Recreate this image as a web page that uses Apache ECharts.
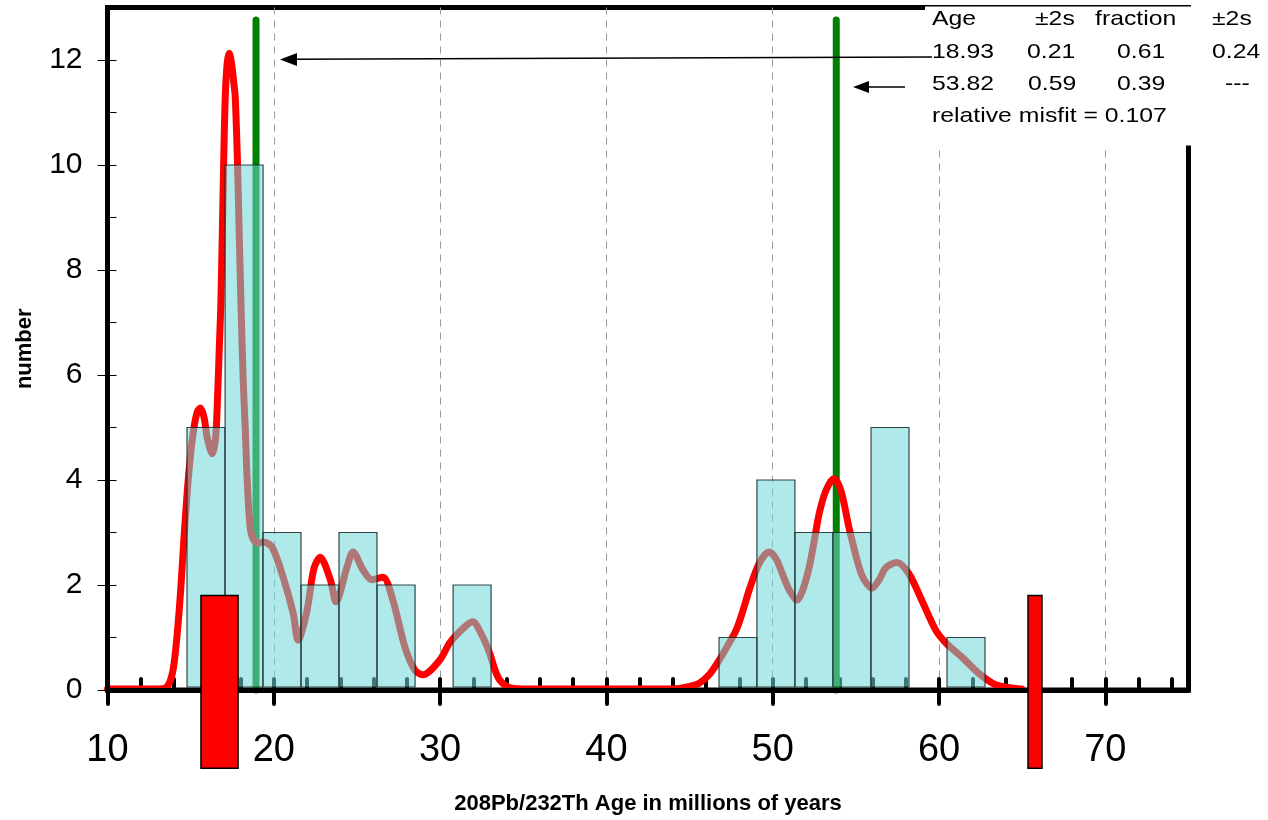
<!DOCTYPE html>
<html>
<head>
<meta charset="utf-8">
<script src="https://cdn.jsdelivr.net/npm/echarts@6/dist/echarts.min.js"></script>
<style>html,body{margin:0;padding:0;background:#fff}#c{width:1268px;height:820px}</style>
</head>
<body>
<div id="c"></div>
<script>
// ---- data ----
var xTicks = [10, 20, 30, 40, 50, 60, 70];
var yTicks = [0, 2, 4, 6, 8, 10, 12];
var binLeft = [14.78, 17.07, 19.35, 21.64, 23.92, 26.21, 30.78, 46.77, 49.05, 51.34, 53.62, 55.91, 60.48];
var binCount = [5, 10, 3, 2, 3, 2, 2, 1, 4, 3, 3, 5, 1];
var binWidth = 2.285;
var curveX = [10, 12, 13, 13.5, 13.8, 14.0, 14.2, 14.4, 14.6, 14.8, 15.0, 15.2, 15.4, 15.58, 15.8, 16.0, 16.3, 16.5, 16.62, 16.72, 16.82, 16.98, 17.08, 17.2, 17.32, 17.45, 17.58, 17.68, 17.82, 17.92, 18.03, 18.16, 18.28, 18.4, 18.58, 18.8, 19.1, 19.36, 19.9, 20.56, 21.16, 21.46, 22.0, 22.4, 22.78, 23.4, 23.74, 24.4, 24.76, 25.36, 25.9, 26.56, 27.16, 27.88, 28.48, 28.96, 29.98, 30.58, 31.4, 31.96, 32.5, 32.98, 33.3, 33.58, 34.0, 34.4, 35.0, 44.0, 44.4, 45.0, 45.58, 46.2, 46.78, 47.3, 47.8, 48.2, 48.58, 49.2, 49.78, 50.2, 50.56, 51.0, 51.46, 51.8, 52.2, 52.5, 52.8, 53.2, 53.68, 54.1, 54.58, 55.18, 55.5, 55.96, 56.4, 56.8, 57.46, 58.18, 58.96, 59.8, 60.4, 61.36, 62.38, 63.4, 64.36, 64.96];
var curveY = [0.02, 0.02, 0.02, 0.04, 0.2, 0.5, 1.1, 1.9, 2.9, 3.8, 4.5, 5.0, 5.3, 5.37, 5.2, 4.8, 4.5, 4.8, 5.6, 6.5, 7.4, 9.96, 11.3, 11.95, 12.13, 11.95, 11.6, 11.3, 10.0, 8.7, 7.3, 5.9, 5.0, 4.0, 3.1, 2.85, 2.8, 2.82, 2.72, 2.15, 1.47, 0.95, 1.52, 2.3, 2.53, 2.1, 1.68, 2.34, 2.63, 2.29, 2.1, 2.15, 1.71, 0.82, 0.38, 0.29, 0.57, 0.9, 1.18, 1.3, 1.05, 0.7, 0.38, 0.19, 0.07, 0.03, 0.02, 0.02, 0.03, 0.07, 0.13, 0.3, 0.57, 0.85, 1.14, 1.5, 1.9, 2.42, 2.63, 2.5, 2.23, 1.9, 1.71, 1.9, 2.35, 2.85, 3.37, 3.8, 4.03, 3.8, 3.1, 2.35, 2.1, 1.94, 2.1, 2.33, 2.43, 2.22, 1.71, 1.14, 0.9, 0.63, 0.32, 0.1, 0.04, 0.02];
var peakAges = [18.93, 53.82];
var peakLineTop = 12.76;
var rangeLeft = [15.62, 65.35];
var rangeRight = [17.85, 66.19];
var rangeTop = 1.8;
var rangeBottom = -1.49;
var tableRows = [
  ['Age', '\u00b12s', 'fraction', '\u00b12s'],
  ['18.93', '0.21', '0.61', '0.24'],
  ['53.82', '0.59', '0.39', '---'],
  ['relative misfit = 0.107']
];

// ---- build ----
var FONT = 'Arial, "Liberation Sans", sans-serif';
var curveData = curveX.map(function (x, i) { return [x, curveY[i]]; });
var binData = binLeft.map(function (l, i) { return [l, l + binWidth, binCount[i]]; });
var peakData = peakAges.map(function (a) { return [a, peakLineTop]; });
var rangeData = rangeLeft.map(function (l, i) { return [l, rangeRight[i], rangeTop, rangeBottom]; });

var chart = echarts.init(document.getElementById('c'), null, {renderer: 'canvas'});

var colX = [[932, 1035, 1095, 1212], [932, 1027, 1117, 1212], [932, 1028, 1117, 1225], [932]];
var rowY = [19.5, 52, 84.5, 116.5];
var tableEls = [{
  type: 'rect', z: 30,
  shape: {x: 925, y: 6.5, width: 343, height: 139},
  style: {fill: '#fff'}
}];
tableRows.forEach(function (row, r) {
  row.forEach(function (t, c) {
    tableEls.push({
      type: 'text', z: 31, x: colX[r][c], y: rowY[r], scaleX: 1.18,
      style: {text: t, font: '21px ' + FONT, fill: '#000', verticalAlign: 'middle', align: 'left'}
    });
  });
});
// arrows
tableEls.push({type: 'line', z: 32, shape: {x1: 932, y1: 57, x2: 292, y2: 59.3}, style: {stroke: '#000', lineWidth: 1.5}});
tableEls.push({type: 'polygon', z: 32, shape: {points: [[280, 59.5], [297, 53], [297, 66]]}, style: {fill: '#000'}});
tableEls.push({type: 'line', z: 32, shape: {x1: 905, y1: 87, x2: 864, y2: 87}, style: {stroke: '#000', lineWidth: 1.5}});
tableEls.push({type: 'polygon', z: 32, shape: {points: [[853, 87], [869, 81], [869, 93]]}, style: {fill: '#000'}});

var option = {
  animation: false,
  backgroundColor: '#fff',
  grid: {left: 107.5, right: 79.5, top: 7.5, bottom: 129.5, show: true, borderColor: '#000', borderWidth: 5, backgroundColor: 'transparent'},
  xAxis: [{
    type: 'value', min: 10, max: 75, position: 'bottom', z: 5,
    axisLine: {onZero: false, lineStyle: {color: '#000', width: 5}},
    axisTick: {show: true, inside: false, length: 14, customValues: xTicks, lineStyle: {color: '#000', width: 4, cap: 'round'}},
    axisLabel: {customValues: xTicks, fontSize: 38, fontFamily: FONT, color: '#000', margin: 42},
    splitLine: {show: false},
    name: '208Pb/232Th Age in millions of years', nameLocation: 'middle', nameGap: 103,
    nameTextStyle: {fontSize: 22, fontWeight: 'bold', fontFamily: FONT, color: '#000'}
  }, {
    type: 'value', min: 10, max: 75, interval: 2, position: 'bottom', z: 0,
    axisLine: {show: false, onZero: false},
    axisTick: {show: true, inside: true, length: 11, lineStyle: {color: '#000', width: 4, cap: 'round'}},
    axisLabel: {show: false}, splitLine: {show: false}
  }, {
    type: 'value', min: 10, max: 75, interval: 10, position: 'bottom', z: 0,
    axisLine: {show: false, onZero: false}, axisTick: {show: false}, axisLabel: {show: false},
    splitLine: {show: true, showMinLine: false, showMaxLine: false, lineStyle: {color: '#999', width: 1, type: [7, 6]}}
  }],
  yAxis: [{
    type: 'value', min: 0, max: 13, position: 'left', z: 5,
    axisLine: {onZero: false, lineStyle: {color: '#000', width: 5}},
    axisTick: {show: true, inside: false, length: 10, customValues: yTicks, lineStyle: {color: '#000', width: 1}},
    axisLabel: {customValues: yTicks, fontSize: 30, fontFamily: FONT, color: '#000', margin: 25},
    splitLine: {show: false},
    name: 'number', nameLocation: 'middle', nameGap: 72,
    nameTextStyle: {fontSize: 22, fontWeight: 'bold', fontFamily: FONT, color: '#000'}
  }, {
    type: 'value', min: 0, max: 13, interval: 1, position: 'left', offset: 0, z: 0,
    axisLine: {show: false, onZero: false},
    axisTick: {show: true, inside: true, length: 9, lineStyle: {color: '#000', width: 1}},
    axisLabel: {show: false}, splitLine: {show: false}
  }],
  series: [{
    type: 'custom', name: 'peaks', z: 2, clip: false,
    data: peakData,
    renderItem: function (params, api) {
      var top = api.coord([api.value(0), api.value(1)]);
      var bot = api.coord([api.value(0), 0]);
      return {type: 'line', shape: {x1: top[0], y1: top[1], x2: bot[0], y2: bot[1]},
        style: {stroke: '#008000', lineWidth: 7, lineCap: 'round'}};
    }
  }, {
    type: 'line', name: 'density', z: 3, data: curveData, showSymbol: false, smooth: 0.3,
    lineStyle: {color: '#ff0000', width: 7, cap: 'round', join: 'round'}
  }, {
    type: 'custom', name: 'histogram', z: 4,
    data: binData,
    renderItem: function (params, api) {
      var p0 = api.coord([api.value(0), api.value(2)]);
      var p1 = api.coord([api.value(1), 0]);
      return {type: 'rect', shape: {x: p0[0], y: p0[1], width: p1[0] - p0[0], height: p1[1] - p0[1] - 3},
        style: {fill: 'rgba(110,215,215,0.55)', stroke: 'rgba(20,40,40,0.85)', lineWidth: 1.2}};
    }
  }, {
    type: 'custom', name: 'range', z: 20, clip: false,
    data: rangeData,
    renderItem: function (params, api) {
      var p0 = api.coord([api.value(0), api.value(2)]);
      var p1 = api.coord([api.value(1), api.value(3)]);
      return {type: 'rect', shape: {x: p0[0], y: p0[1], width: p1[0] - p0[0], height: p1[1] - p0[1]},
        style: {fill: '#ff0000', stroke: '#000', lineWidth: 1.5}};
    }
  }],
  graphic: tableEls
};
chart.setOption(option);
</script>
</body>
</html>
